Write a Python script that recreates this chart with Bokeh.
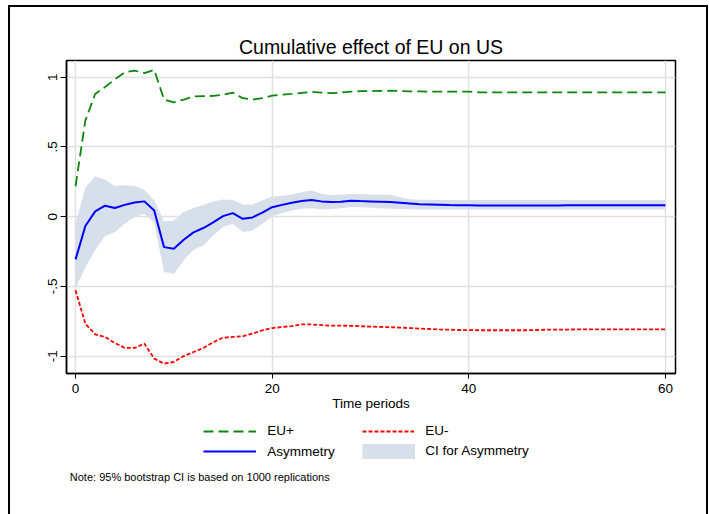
from bokeh.plotting import figure
from bokeh.layouts import column
from bokeh.models import (FixedTicker, Range1d, Legend, LegendItem, Label)
from bokeh.embed import file_html
from bokeh.resources import INLINE

periods = list(range(61))

eu_pos = [0.22, 0.69, 0.88, 0.93, 0.985, 1.035, 1.048, 1.03, 1.053, 0.84,
          0.82, 0.84, 0.862, 0.864, 0.866, 0.875, 0.89, 0.85, 0.84, 0.85,
          0.868, 0.875, 0.88, 0.888, 0.895, 0.89, 0.886, 0.89, 0.897, 0.9,
          0.9, 0.902, 0.903, 0.901, 0.899, 0.898, 0.897, 0.897, 0.897, 0.897,
          0.897, 0.892, 0.892, 0.892, 0.892, 0.892, 0.892, 0.892, 0.892, 0.892,
          0.892, 0.892, 0.892, 0.892, 0.892, 0.892, 0.892, 0.892, 0.892, 0.892,
          0.892]

eu_neg = [-0.528, -0.767, -0.843, -0.862, -0.905, -0.941, -0.941, -0.91, -1.017, -1.053,
          -1.041, -0.999, -0.97, -0.941, -0.9, -0.867, -0.862, -0.857, -0.838, -0.814,
          -0.798, -0.791, -0.784, -0.772, -0.772, -0.777, -0.781, -0.781, -0.782, -0.785,
          -0.788, -0.79, -0.792, -0.795, -0.798, -0.802, -0.805, -0.808, -0.81, -0.812,
          -0.813, -0.814, -0.814, -0.814, -0.814, -0.814, -0.814, -0.812, -0.81, -0.81,
          -0.809, -0.808, -0.808, -0.808, -0.808, -0.808, -0.808, -0.808, -0.808, -0.808,
          -0.808]

asym = [-0.306, -0.067, 0.038, 0.079, 0.062, 0.085, 0.102, 0.11, 0.045, -0.218,
        -0.23, -0.165, -0.112, -0.081, -0.04, 0.004, 0.026, -0.015, -0.005, 0.03,
        0.068, 0.085, 0.1, 0.112, 0.12, 0.11, 0.105, 0.108, 0.115, 0.112,
        0.11, 0.108, 0.105, 0.1, 0.095, 0.09, 0.088, 0.086, 0.084, 0.083,
        0.082, 0.08, 0.08, 0.08, 0.08, 0.08, 0.08, 0.08, 0.081, 0.081,
        0.082, 0.082, 0.082, 0.082, 0.082, 0.082, 0.082, 0.082, 0.082, 0.082,
        0.082]

ci_upper = [-0.05, 0.21, 0.29, 0.267, 0.22, 0.225, 0.22, 0.193, 0.117, -0.034,
            -0.027, 0.033, 0.062, 0.086, 0.11, 0.124, 0.12, 0.088, 0.088, 0.117,
            0.145, 0.148, 0.16, 0.176, 0.188, 0.165, 0.155, 0.158, 0.162, 0.162,
            0.16, 0.158, 0.157, 0.14, 0.125, 0.122, 0.121, 0.12, 0.12, 0.12,
            0.12, 0.12, 0.12, 0.12, 0.12, 0.12, 0.12, 0.12, 0.12, 0.12,
            0.12, 0.12, 0.12, 0.12, 0.12, 0.12, 0.12, 0.12, 0.12, 0.12,
            0.12]

ci_lower = [-0.516, -0.361, -0.241, -0.139, -0.11, -0.05, -0.003, 0.021, -0.039, -0.397,
            -0.408, -0.313, -0.236, -0.206, -0.134, -0.074, -0.05, -0.11, -0.098, -0.05,
            0.002, 0.026, 0.045, 0.057, 0.06, 0.052, 0.055, 0.06, 0.069, 0.068,
            0.065, 0.06, 0.058, 0.055, 0.053, 0.052, 0.052, 0.052, 0.052, 0.052,
            0.052, 0.052, 0.052, 0.052, 0.052, 0.052, 0.052, 0.052, 0.052, 0.052,
            0.052, 0.052, 0.052, 0.052, 0.052, 0.052, 0.052, 0.052, 0.052, 0.052,
            0.052]

x_ticks = [0, 20, 40, 60]
y_ticks = [-1, -0.5, 0, 0.5, 1]
y_tick_labels = ["-1", "-.5", "0", ".5", "1"]

title_text = "Cumulative effect of EU on US"
x_title = "Time periods"
note_text = "Note: 95% bootstrap CI is based on 1000 replications"
series_names = ["EU+", "EU-", "Asymmetry", "CI for Asymmetry"]

FONT = "Liberation Sans"
GREEN, RED, BLUE, BAND = "#0c860c", "#ff0000", "#0000ff", "#d7dfeb"

# ---------------- main chart (canvas starts at page x=10, y=7) ----------------
p = figure(width=696, height=413, output_backend="svg", toolbar_location=None,
           x_range=Range1d(-0.92, 61.02), y_range=Range1d(-1.124, 1.12),
           min_border_left=56, min_border_right=31, min_border_top=53,
           min_border_bottom=47)
p.background_fill_color = "white"
p.border_fill_color = "white"
p.outline_line_color = "black"
p.outline_line_width = 1.5
p.outline_line_alpha = 1.0

p.title.text = title_text
p.title.align = "center"
p.title.text_font = FONT
p.title.text_font_size = "19.5px"
p.title.text_font_style = "normal"
p.title.text_color = "black"
p.title.standoff = 5

p.xaxis.ticker = FixedTicker(ticks=x_ticks)
p.yaxis.ticker = FixedTicker(ticks=y_ticks)
p.yaxis.major_label_overrides = {t: l for t, l in zip(y_ticks, y_tick_labels)}
p.yaxis.major_label_orientation = "vertical"
for ax in (p.xaxis, p.yaxis):
    ax.axis_line_color = "black"
    ax.axis_line_width = 1.5
    ax.major_tick_line_color = "black"
    ax.major_tick_line_width = 1
    ax.major_tick_in = 0
    ax.minor_tick_line_color = None
    ax.major_label_text_font = FONT
    ax.major_label_text_font_size = "13.5px"
    ax.major_label_text_color = "black"
p.xaxis.major_tick_out = 5
p.yaxis.major_tick_out = 6
p.xaxis.major_label_standoff = 5
p.yaxis.major_label_standoff = 3
p.xaxis.axis_label = x_title
p.xaxis.axis_label_text_font = FONT
p.xaxis.axis_label_text_font_size = "13.5px"
p.xaxis.axis_label_text_font_style = "normal"
p.xaxis.axis_label_text_color = "black"
p.xaxis.axis_label_standoff = 0

p.xgrid.grid_line_color = "#e0e0e0"
p.ygrid.grid_line_color = "#e0e0e0"
p.xgrid.grid_line_width = 1.5
p.ygrid.grid_line_width = 1.5

p.varea(x=periods, y1=ci_lower, y2=ci_upper, fill_color=BAND, fill_alpha=1.0)
p.line(periods, eu_pos, line_color=GREEN, line_width=1.8, line_dash="10 5")
p.line(periods, eu_neg, line_color=RED, line_width=1.8, line_dash="4 2")
p.line(periods, asym, line_color=BLUE, line_width=2.0)

# ---------------- key + note (canvas from page y=420 to 514) ----------------
# its frame is aligned with the main frame by the column layout (left edge at page x=66)
KW, KH = 696, 94
k = figure(width=KW, height=KH, output_backend="svg", toolbar_location=None,
           x_range=Range1d(1000, 1100), y_range=Range1d(1000, 1100),
           x_axis_type=None, y_axis_type=None,
           min_border_left=0, min_border_right=0, min_border_top=0, min_border_bottom=0)
k.grid.visible = False
k.outline_line_color = None
k.background_fill_color = "white"
k.border_fill_color = "white"

# legend keys: same series, drawn outside this panel's visible ranges
kg = k.line(periods, eu_pos, line_color=GREEN, line_width=1.8, line_dash="10 5")
kr = k.line(periods, eu_neg, line_color=RED, line_width=1.8, line_dash="4 2")
kb = k.line(periods, asym, line_color=BLUE, line_width=2.0)
kc = k.line(periods, asym, line_color=BAND, line_width=15)

def kx(px):
    return px - 66.0
def ky(py):
    return 514.0 - py

def add_key(renderer, name, gx, gy_center, gw, standoff):
    lg = Legend(items=[LegendItem(label=name, renderers=[renderer])],
                location=(kx(gx), ky(gy_center + 10.0)),
                glyph_width=gw, glyph_height=20, label_height=20, label_width=10,
                label_standoff=standoff, padding=0, margin=0, spacing=0,
                background_fill_alpha=0, border_line_alpha=0,
                label_text_font=FONT, label_text_font_size="13.5px",
                label_text_color="black")
    k.add_layout(lg, "center")

add_key(kg, series_names[0], 203.3, 430.7, 53, 11)
add_key(kr, series_names[1], 362.3, 430.7, 52, 11)
add_key(kb, series_names[2], 203.3, 451.0, 53, 11)
add_key(kc, series_names[3], 362.3, 450.8, 53, 10)

k.add_layout(Label(x=kx(69.3), y=ky(476.5), x_units="screen", y_units="screen",
                   text=note_text, text_align="left", text_baseline="alphabetic",
                   text_font=FONT, text_font_size="11px", text_color="black"))

page = column(p, k, spacing=0,
              styles={"margin-left": "8px", "margin-top": "5px",
                      "border-left": "2px solid black", "border-top": "2px solid black",
                      "border-right": "2px solid black"})

open("out.html", "w").write(file_html(page, INLINE))
